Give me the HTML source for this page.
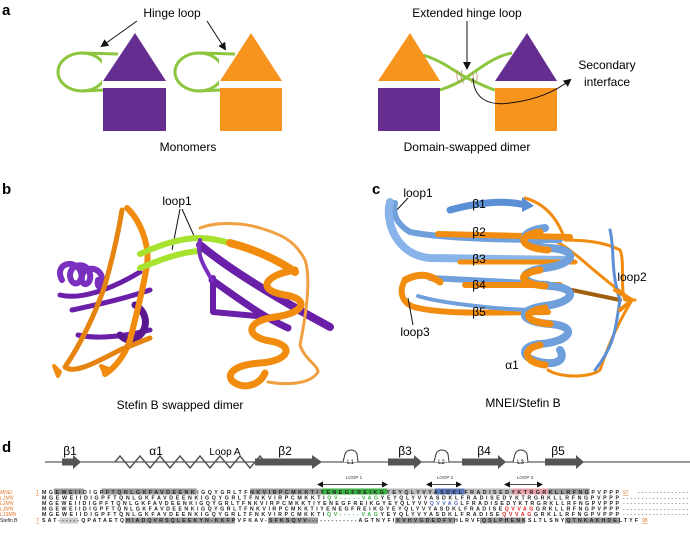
<!DOCTYPE html>
<html><head><meta charset="utf-8"><style>
html,body{margin:0;padding:0;background:#fff;}
svg{display:block;font-family:"Liberation Sans",Arial,sans-serif;}
</style></head><body>
<svg width="690" height="535" viewBox="0 0 690 535" xmlns="http://www.w3.org/2000/svg">
<defs>
<marker id="ah" markerWidth="8" markerHeight="8" refX="6" refY="4" orient="auto" markerUnits="userSpaceOnUse"><path d="M0,0 L8,4 L0,8 z" fill="#111"/></marker>
<marker id="ah2" markerWidth="6" markerHeight="6" refX="5" refY="3" orient="auto" markerUnits="userSpaceOnUse"><path d="M0,0 L6,3 L0,6 z" fill="#111"/></marker>
<marker id="ah3" markerWidth="6" markerHeight="6" refX="1" refY="3" orient="auto-start-reverse" markerUnits="userSpaceOnUse"><path d="M0,0 L6,3 L0,6 z" fill="#111"/></marker>
</defs>

<!-- Panel a -->
<text x="2" y="15" font-size="15" font-weight="bold">a</text>
<text x="172" y="17" font-size="12" text-anchor="middle">Hinge loop</text>
<line x1="137" y1="21" x2="102" y2="46" stroke="#111" stroke-width="1" marker-end="url(#ah)"/>
<line x1="207" y1="21" x2="225" y2="49" stroke="#111" stroke-width="1" marker-end="url(#ah)"/>
<ellipse cx="82" cy="72" rx="24" ry="19" fill="none" stroke="#8cc63f" stroke-width="3"/>
<rect x="102" y="50" width="20" height="40" fill="#fff"/>
<path d="M82,53 L118,54" stroke="#8cc63f" stroke-width="3" fill="none"/>
<path d="M82,91 L104,90" stroke="#8cc63f" stroke-width="3" fill="none"/>
<polygon points="135,33 103,81 166,81" fill="#662d91"/>
<rect x="103" y="88" width="63" height="43" fill="#662d91"/>
<ellipse cx="199" cy="72" rx="24" ry="19" fill="none" stroke="#8cc63f" stroke-width="3"/>
<rect x="219" y="50" width="20" height="40" fill="#fff"/>
<path d="M199,53 L235,54" stroke="#8cc63f" stroke-width="3" fill="none"/>
<path d="M199,91 L221,90" stroke="#8cc63f" stroke-width="3" fill="none"/>
<polygon points="251,33 220,81 282,81" fill="#f7941d"/>
<rect x="220" y="88" width="62" height="43" fill="#f7941d"/>
<text x="188" y="151" font-size="12" text-anchor="middle">Monomers</text>

<text x="467" y="17" font-size="12" text-anchor="middle">Extended hinge loop</text>
<line x1="467" y1="21" x2="467" y2="68" stroke="#111" stroke-width="1" marker-end="url(#ah)"/>
<path d="M423,55 C445,62 455,72 467,78 C480,84 488,88 495,90" stroke="#8cc63f" stroke-width="3" fill="none"/>
<path d="M440,90 C452,86 460,82 467,77 C480,68 495,56 512,53" stroke="#8cc63f" stroke-width="3" fill="none"/>
<path d="M458,70 q-3,8 2,13 M462,70 q-3,8 2,13 M472,72 q3,6 -1,11 M476,72 q3,6 -1,11" stroke="#b08860" stroke-width="0.7" fill="none"/>
<polygon points="410,33 378,81 440,81" fill="#f7941d"/>
<rect x="378" y="88" width="62" height="43" fill="#662d91"/>
<polygon points="527,33 495,81 557,81" fill="#662d91"/>
<rect x="495" y="88" width="62" height="43" fill="#f7941d"/>
<path d="M473,78 C474,100 490,106 510,103 C535,100 555,92 570,80" stroke="#111" stroke-width="1" fill="none" marker-end="url(#ah)"/>
<text x="607" y="69" font-size="12" text-anchor="middle">Secondary</text>
<text x="607" y="86" font-size="12" text-anchor="middle">interface</text>
<text x="467" y="151" font-size="12" text-anchor="middle">Domain-swapped dimer</text>

<!-- Panel b -->
<text x="2" y="194" font-size="15" font-weight="bold">b</text>
<text x="177" y="205" font-size="12" text-anchor="middle">loop1</text>
<path d="M180,209 L172,250 M182,209 L195,238" stroke="#111" stroke-width="1" fill="none"/>
<g fill="none" stroke-linecap="round" stroke-linejoin="round">
<path d="M62,280 c-8,-15 10,-22 18,-10 c6,12 -8,20 -10,6 c0,-14 18,-14 20,-2 c2,12 -10,14 -8,2 c2,-10 18,-10 20,2 c2,10 -6,12 -4,2" stroke="#7b2fbf" stroke-width="6"/>
<path d="M60,295 C80,300 110,290 140,272 M72,310 C95,305 120,300 150,290 M78,335 C100,340 130,335 150,330" stroke="#6a1fa8" stroke-width="5"/>
<path d="M135,305 c10,5 15,20 5,30 c-8,8 -15,5 -20,0" stroke="#5a1890" stroke-width="7"/>
<path d="M127,208 C140,220 150,245 147,265 C143,290 135,320 130,340 C125,355 115,368 105,374" stroke="#f28c0f" stroke-width="6"/>
<path d="M122,210 C118,235 112,260 105,285 C95,315 80,345 65,367 C75,375 100,360 120,350 L150,338" stroke="#e68410" stroke-width="5"/>
<path d="M60,372 l-6,-6 l4,10 z M105,374 l-4,-8 l10,4 z" stroke="#f28c0f" stroke-width="4"/>
<path d="M140,254 C160,245 180,238 200,238 C212,238 222,241 230,243" stroke="#a6e22e" stroke-width="6"/>
<path d="M140,268 C160,260 180,252 200,251" stroke="#a6e22e" stroke-width="6"/>
<path d="M200,245 C230,270 280,300 330,327" stroke="#6a1fa8" stroke-width="8"/>
<path d="M212,280 C240,300 265,318 288,328" stroke="#6a1fa8" stroke-width="7"/>
<path d="M213,278 L213,312 L278,318" stroke="#6a1fa8" stroke-width="6"/>
<path d="M200,240 C196,255 205,268 212,280" stroke="#7b2fbf" stroke-width="4"/>
<path d="M230,243 C250,248 275,258 295,272" stroke="#f28c0f" stroke-width="8"/>
<path d="M200,228 C215,222 240,222 260,228 C280,234 295,240 305,260 C312,280 305,320 300,345 C305,360 318,365 318,372 C310,385 285,385 268,382" stroke="#f0a040" stroke-width="3"/>
<path d="M295,270 c-30,5 -40,20 -10,25 c25,4 20,18 -10,22 c-30,4 -30,20 -5,24 c25,4 20,20 -10,22 c-30,2 -35,14 -25,20 c10,6 25,2 30,-10" stroke="#f28c0f" stroke-width="7"/>
</g>
<text x="180" y="409" font-size="12" text-anchor="middle">Stefin B swapped dimer</text>

<!-- Panel c -->
<text x="372" y="194" font-size="15" font-weight="bold">c</text>
<text x="418" y="197" font-size="12" text-anchor="middle">loop1</text>
<line x1="408" y1="198" x2="394" y2="213" stroke="#111" stroke-width="1"/>
<g fill="none" stroke-linecap="round" stroke-linejoin="round">
<path d="M525,198 C550,205 560,225 565,240 C595,240 610,245 620,250 C625,260 620,290 625,300 L635,300" stroke="#f28c0f" stroke-width="3"/>
<path d="M553,240 C575,250 590,270 632,300 C620,320 610,340 600,370 C590,378 560,378 548,370" stroke="#f28c0f" stroke-width="3"/>
<path d="M395,203 C392,215 398,225 410,232 C440,238 500,240 560,240" stroke="#6fa0dc" stroke-width="6"/>
<path d="M390,202 C385,220 395,255 430,258 L570,260" stroke="#88b4ea" stroke-width="8"/>
<path d="M438,234 L570,237" stroke="#f28c0f" stroke-width="6"/>
<path d="M460,262 L575,262" stroke="#f28c0f" stroke-width="5"/>
<path d="M450,210 C480,202 505,200 525,205" stroke="#5b8fd6" stroke-width="7"/>
<polygon points="522,197 534,206 522,212" fill="#5b8fd6"/>
<path d="M405,280 C398,292 402,305 418,308 C450,315 500,312 548,312" stroke="#f28c0f" stroke-width="6"/>
<path d="M418,296 C440,303 500,310 540,310" stroke="#6fa0dc" stroke-width="4"/>
<path d="M430,278 L548,284" stroke="#6fa0dc" stroke-width="6"/>
<path d="M465,285 L560,285" stroke="#f28c0f" stroke-width="6"/>
<path d="M405,280 C420,272 430,275 440,282" stroke="#f28c0f" stroke-width="7"/>
<path d="M548,285 L620,300" stroke="#a06010" stroke-width="4"/>
<path d="M610,230 C615,250 610,270 620,300 C615,330 615,345 595,370" stroke="#5b8fd6" stroke-width="3"/>
<path d="M545,228 c-30,4 -25,18 5,20 c30,2 25,16 -5,20 c-30,4 -25,16 5,18 c30,2 25,16 -5,20 c-30,4 -25,16 5,18 c30,2 20,18 -10,20 c-20,2 -20,14 0,18 c20,4 25,-4 20,-12" stroke="#6fa0dc" stroke-width="8"/>
<path d="M540,232 c-25,4 -20,16 8,18 M540,270 c-25,4 -20,14 5,16 M545,308 c-25,4 -20,14 5,16 M540,345 c-20,4 -15,18 5,20" stroke="#f28c0f" stroke-width="7"/>
<path d="M615,290 L632,300 L620,310" stroke="#f28c0f" stroke-width="4"/>
</g>
<text x="479" y="208" font-size="12" text-anchor="middle">β1</text>
<text x="479" y="236" font-size="12" text-anchor="middle">β2</text>
<text x="479" y="263" font-size="12" text-anchor="middle">β3</text>
<text x="479" y="289" font-size="12" text-anchor="middle">β4</text>
<text x="479" y="316" font-size="12" text-anchor="middle">β5</text>
<text x="632" y="281" font-size="12" text-anchor="middle">loop2</text>
<text x="415" y="336" font-size="12" text-anchor="middle">loop3</text>
<line x1="413" y1="325" x2="408" y2="298" stroke="#111" stroke-width="1"/>
<text x="512" y="369" font-size="12" text-anchor="middle">α1</text>
<text x="523" y="407" font-size="12" text-anchor="middle">MNEI/Stefin B</text>

<!-- Panel d -->
<text x="2" y="452" font-size="15" font-weight="bold">d</text>
<line x1="45" y1="462" x2="690" y2="462" stroke="#333" stroke-width="1"/>
<polygon points="62,458.5 73,458.5 73,455 81,462 73,469 73,465.5 62,465.5" fill="#555"/>
<path d="M115,462 l5,-6 l5,6 l5,6 l5,-6 l5,-6 l5,6 l5,6 l5,-6 l5,-6 l5,6 l5,6 l5,-6 l5,-6 l5,6 l5,6 l5,-6 l5,-6 l5,6 l5,6 l5,-6 l5,-6 l5,6 l5,6 l5,-6 l5,-6 l5,6 l5,6 l5,-6 l5,-6 l5,6" fill="none" stroke="#555" stroke-width="1.5"/>
<polygon points="255,458.5 312,458.5 312,455 322,462 312,469 312,465.5 255,465.5" fill="#555"/>
<path d="M343,462 L345,454 a6.5,6.5 0 0 1 12,0 L358,462" fill="#fff" stroke="#333"/>
<polygon points="388,458.5 414,458.5 414,455 422,462 414,469 414,465.5 388,465.5" fill="#555"/>
<path d="M434,462 L436,454 a6.5,6.5 0 0 1 12,0 L449,462" fill="#fff" stroke="#333"/>
<polygon points="462,458.5 498,458.5 498,455 506,462 498,469 498,465.5 462,465.5" fill="#555"/>
<path d="M513,462 L515,454 a6.5,6.5 0 0 1 12,0 L528,462" fill="#fff" stroke="#333"/>
<polygon points="545,458.5 576,458.5 576,455 584,462 576,469 576,465.5 545,465.5" fill="#555"/>
<g font-size="12">
<text x="70" y="455" text-anchor="middle">β1</text>
<text x="156" y="455" text-anchor="middle">α1</text>
<text x="225" y="455" text-anchor="middle" font-size="10">Loop A</text>
<text x="285" y="455" text-anchor="middle">β2</text>
<text x="405" y="455" text-anchor="middle">β3</text>
<text x="484" y="455" text-anchor="middle">β4</text>
<text x="558" y="455" text-anchor="middle">β5</text>
</g>
<g font-size="6">
<text x="350.5" y="464" text-anchor="middle">L1</text>
<text x="441.5" y="464" text-anchor="middle">L2</text>
<text x="520.5" y="464" text-anchor="middle">L3</text>
</g>
<g font-size="4.5" fill="#333">
<text x="354" y="479" text-anchor="middle">LOOP 1</text>
<text x="445" y="479" text-anchor="middle">LOOP 2</text>
<text x="525" y="479" text-anchor="middle">LOOP 3</text>
</g>
<line x1="322" y1="484.5" x2="387" y2="484.5" stroke="#111" stroke-width="0.8" marker-start="url(#ah3)" marker-end="url(#ah2)"/>
<line x1="431" y1="484.5" x2="461" y2="484.5" stroke="#111" stroke-width="0.8" marker-start="url(#ah3)" marker-end="url(#ah2)"/>
<line x1="509" y1="484.5" x2="542" y2="484.5" stroke="#111" stroke-width="0.8" marker-start="url(#ah3)" marker-end="url(#ah2)"/>

<g>
<rect x="53.9" y="488.5" width="29.8" height="6" fill="#999"/>
<rect x="101.5" y="488.5" width="95.2" height="6" fill="#999"/>
<rect x="250.3" y="488.5" width="71.4" height="6" fill="#999"/>
<rect x="321.7" y="488.5" width="65.5" height="6" fill="#3cb043"/>
<rect x="387.2" y="488.5" width="47.6" height="6" fill="#bbb"/>
<rect x="434.8" y="488.5" width="29.8" height="6" fill="#5a78b8"/>
<rect x="464.6" y="488.5" width="47.6" height="6" fill="#bbb"/>
<rect x="512.2" y="488.5" width="35.7" height="6" fill="#e8a0a8"/>
<rect x="547.9" y="488.5" width="41.7" height="6" fill="#999"/>
<rect x="60" y="517.5" width="18" height="6" fill="#ccc"/>
<rect x="125" y="517.5" width="110" height="6" fill="#999"/>
<rect x="268" y="517.5" width="50" height="6" fill="#999"/>
<rect x="395" y="517.5" width="60" height="6" fill="#999"/>
<rect x="480" y="517.5" width="45" height="6" fill="#999"/>
<rect x="565" y="517.5" width="55" height="6" fill="#999"/>
</g>
<g font-size="5" font-style="italic" fill="#e07a30">
<text x="0" y="494">MNEI</text>
<text x="0" y="499.5">L1MN</text>
<text x="0" y="505">L2MN</text>
<text x="0" y="510.5">L3MN</text>
<text x="0" y="516">L13MN</text>
</g>
<text x="0" y="522" font-size="5" fill="#222">Stefin B</text>
<text x="36" y="494" font-size="5" fill="#e07a30" text-decoration="underline">1</text>
<text x="36" y="522" font-size="5" fill="#e07a30" text-decoration="underline">7</text>
<g font-size="5.3" font-weight="bold" fill="#222">
<text x="42" y="494" textLength="577" lengthAdjust="spacing">MGEWEIIDIGPFTQNLGKFAVDEENKIGQYGRLTFNKVIRPCMKKTIYENEGFREIKGYEYQLYVYASDKLFRADISEDYKTRGRKLLRFNGPVPPP</text>
<text x="42" y="499.5" textLength="577" lengthAdjust="spacing">MGEWEIIDIGPFTQNLGKFAVDEENKIGQYGRLTFNKVIRPCMKKTI<tspan fill="#3cb043">QV-----VAG</tspan>YEYQLYVYASDKLFRADISEDYKTRGRKLLRFNGPVPPP</text>
<text x="42" y="505" textLength="577" lengthAdjust="spacing">MGEWEIIDIGPFTQNLGKFAVDEENKIGQYGRLTFNKVIRPCMKKTIYENEGFREIKGYEYQLYVV<tspan fill="#4a6cc0">QVVAG</tspan>LFRADISEDYKTRGRKLLRFNGPVPPP</text>
<text x="42" y="510.5" textLength="577" lengthAdjust="spacing">MGEWEIIDIGPFTQNLGKFAVDEENKIGQYGRLTFNKVIRPCMKKTIYENEGFREIKGYEYQLYVYASDKLFRADISE<tspan fill="#e02020">QVVAG</tspan>GRKLLRFNGPVPPP</text>
<text x="42" y="516" textLength="577" lengthAdjust="spacing">MGEWEIIDIGPFTQNLGKFAVDEENKIGQYGRLTFNKVIRPCMKKTI<tspan fill="#3cb043">QV-----VAG</tspan>YEYQLYVYASDKLFRADISE<tspan fill="#e02020">QVVAG</tspan>GRKLLRFNGPVPPP</text>
<text x="42" y="522" textLength="596" lengthAdjust="spacing">SAT------QPATAETQHIADQVRSQLEEKYN-KKFPVFKAV-SFKSQVV-------------AGTNYFIKVHVGDEDFVHLRVFQSLPHENKSLTLSNYQTNKAKHDELTYF</text>
</g>
<text x="623" y="494" font-size="5" fill="#e07a30" text-decoration="underline">97</text>
<text x="638" y="494" font-size="5" fill="#222" textLength="50" lengthAdjust="spacing">--------------</text>
<text x="623" y="499.5" font-size="5" fill="#222" textLength="65" lengthAdjust="spacing">------------------</text>
<text x="623" y="505" font-size="5" fill="#222" textLength="65" lengthAdjust="spacing">------------------</text>
<text x="623" y="510.5" font-size="5" fill="#222" textLength="65" lengthAdjust="spacing">------------------</text>
<text x="623" y="516" font-size="5" fill="#222" textLength="65" lengthAdjust="spacing">------------------</text>
<text x="642" y="522" font-size="5" fill="#e07a30" text-decoration="underline">98</text>
</svg>
</body></html>
